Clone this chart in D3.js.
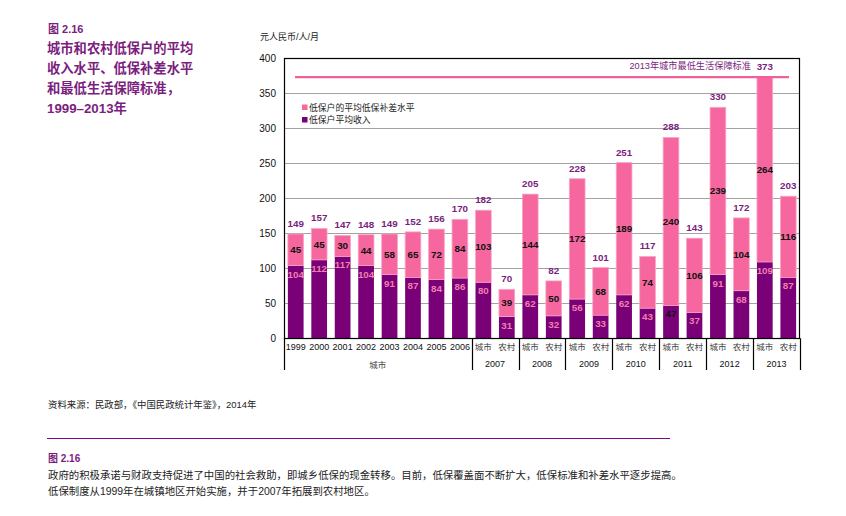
<!DOCTYPE html>
<html><head><meta charset="utf-8">
<script src="https://cdn.jsdelivr.net/npm/d3@7"></script>
<style>
html,body{margin:0;padding:0;background:#fff;}
svg{display:block;font-family:"Liberation Sans","Noto Sans CJK SC",Arial,sans-serif;}
</style></head>
<body>
<svg id="chart" width="846" height="516"></svg>
<script>
// ---- data ----
const barLabels = ["1999","2000","2001","2002","2003","2004","2005","2006",
  "城市","农村","城市","农村","城市","农村","城市","农村","城市","农村","城市","农村","城市","农村"];
const income = [104,112,117,104,91,87,84,86,80,31,62,32,56,33,62,43,47,37,91,68,109,87];
const gap    = [45,45,30,44,58,65,72,84,103,39,144,50,172,68,189,74,240,106,239,104,264,116];
const total  = [149,157,147,148,149,152,156,170,182,70,205,82,228,101,251,117,288,143,330,172,373,203];
const groupLabels = ["城市","2007","2008","2009","2010","2011","2012","2013"];
const groupStarts = [0,8,10,12,14,16,18,20];
const groupEnds   = [8,10,12,14,16,18,20,22];
const yTicks = [0,50,100,150,200,250,300,350,400];
const standard2013 = 373;
const seriesNames = ["低保户的平均低保补差水平","低保户平均收入"];

// ---- style ----
const PINK = "#F5679E", PURPLE = "#7A0077", TITLE = "#7B1E7E";
const svg = d3.select("#chart");
const m = {left:284, right:800, top:58.3, bottom:338.3};

const x = d3.scaleBand().domain(d3.range(barLabels.length))
  .range([m.left, m.right]).paddingInner(0.33).paddingOuter(0.165);
const y = d3.scaleLinear().domain([0,400]).range([m.bottom, m.top]);

// Title block
svg.append("text").attr("x",48).attr("y",33).attr("fill",TITLE)
  .attr("font-size",11).attr("font-weight","bold")
  .text("图 2.16");
const titleLines = ["城市和农村低保户的平均","收入水平、低保补差水平","和最低生活保障标准，","1999–2013年"];
titleLines.forEach((t,i)=>{
  svg.append("text").attr("x",47).attr("y",53+i*20).attr("fill",TITLE)
    .attr("font-size",13.3).attr("font-weight","bold").text(t);
});

// y unit
svg.append("text").attr("x",260).attr("y",40).attr("font-size",9).attr("fill","#222")
  .text("元人民币/人/月");

// grid
svg.append("g").selectAll("line").data(yTicks.filter(d=>d>0 && d<400)).join("line")
  .attr("x1",m.left).attr("x2",m.right)
  .attr("y1",d=>Math.round(y(d))+0.5).attr("y2",d=>Math.round(y(d))+0.5)
  .attr("stroke","#a3a3a3").attr("stroke-width",1);

// y axis labels
const yAxis = d3.axisLeft(y).tickValues(yTicks).tickSize(0).tickPadding(8);
const ya = svg.append("g").attr("transform",`translate(${m.left},0)`).call(yAxis);
ya.select(".domain").remove();
ya.selectAll("text").attr("font-size",10).attr("fill","#111")
  .attr("font-family","Liberation Sans, Arial, sans-serif");

// bars
const bars = svg.append("g");
bars.selectAll("rect.inc").data(income).join("rect").attr("class","inc")
  .attr("x",(d,i)=>x(i)).attr("width",x.bandwidth())
  .attr("y",d=>y(d)).attr("height",d=>y(0)-y(d)).attr("fill",PURPLE);
bars.selectAll("rect.gap").data(gap).join("rect").attr("class","gap")
  .attr("x",(d,i)=>x(i)).attr("width",x.bandwidth())
  .attr("y",(d,i)=>y(income[i]+d)).attr("height",(d,i)=>y(income[i])-y(income[i]+d))
  .attr("fill",PINK).attr("stroke","#F9A6C6").attr("stroke-width",0.8);

// 2013 standard line
svg.append("line").attr("x1",295).attr("x2",789)
  .attr("y1",y(standard2013)).attr("y2",y(standard2013))
  .attr("stroke","#F0609A").attr("stroke-width",2.2);
svg.append("text").attr("x",751).attr("y",69).attr("text-anchor","end")
  .attr("font-size",9.2).attr("fill",TITLE).text("2013年城市最低生活保障标准");

// frame
svg.append("rect").attr("x",m.left+0.5).attr("y",Math.round(m.top)+0.5)
  .attr("width",m.right-m.left-1).attr("height",Math.round(m.bottom)-Math.round(m.top))
  .attr("fill","none").attr("stroke","#000").attr("stroke-width",1.2);

// value labels
const lab = svg.append("g").attr("font-weight","bold").attr("font-size",9.8)
  .attr("text-anchor","middle").attr("font-family","Liberation Sans, Arial, sans-serif");
lab.selectAll("text.tot").data(total).join("text").attr("class","tot")
  .attr("x",(d,i)=>x(i)+x.bandwidth()/2).attr("y",(d,i)=>y(income[i]+gap[i])-7)
  .attr("fill",TITLE).text(d=>d);
lab.selectAll("text.gap").data(gap).join("text").attr("class","gap")
  .attr("x",(d,i)=>x(i)+x.bandwidth()/2).attr("y",(d,i)=>y(income[i]+d/2)+3.5)
  .attr("fill","#111").text(d=>d);
lab.selectAll("text.inc").data(income).join("text").attr("class","inc")
  .attr("x",(d,i)=>x(i)+x.bandwidth()/2).attr("y",d=>y(d)+12)
  .attr("fill",d=>d===47?"#111":"#F27FB0").text(d=>d);

// x-axis labels
const xl = svg.append("g").attr("text-anchor","middle");
xl.selectAll("text").data(barLabels).join("text")
  .attr("x",(d,i)=>x(i)+x.bandwidth()/2).attr("y",350)
  .attr("font-size",d=>/^\d/.test(d)?9:8.5)
  .attr("fill",d=>/^\d/.test(d)?"#111":"#444").text(d=>d);
// separators
const sepX = [m.left].concat(groupEnds.map(e=> e===barLabels.length ? m.right : x(e)-x.step()*x.paddingInner()/2));
svg.append("g").selectAll("line").data(sepX).join("line")
  .attr("x1",d=>Math.round(d)+0.5).attr("x2",d=>Math.round(d)+0.5)
  .attr("y1",m.bottom).attr("y2",370).attr("stroke","#000").attr("stroke-width",1.2);
svg.append("g").selectAll("text").data(groupLabels).join("text")
  .attr("text-anchor","middle")
  .attr("x",(d,i)=>{const a=x(groupStarts[i]); const b=x(groupEnds[i]-1)+x.bandwidth(); return (a+b)/2;})
  .attr("y",(d,i)=>i===0?368:367)
  .attr("font-size",(d,i)=>i===0?8.5:9).attr("fill",(d,i)=>i===0?"#444":"#111").text(d=>d);

// legend
const lg = svg.append("g");
[PINK,PURPLE].forEach((c,i)=>{
  lg.append("rect").attr("x",302).attr("y",104.5+i*12.5).attr("width",5.5).attr("height",5.5).attr("fill",c);
  lg.append("text").attr("x",309).attr("y",110.5+i*12.5).attr("font-size",8.8).attr("fill","#222").text(seriesNames[i]);
});

// footer
svg.append("text").attr("x",48).attr("y",408).attr("font-size",9.4).attr("fill","#222")
  .text("资料来源：民政部，《中国民政统计年鉴》，2014年");
svg.append("line").attr("x1",47).attr("x2",670).attr("y1",438.5).attr("y2",438.5)
  .attr("stroke","#7A0A85").attr("stroke-width",1.2);
svg.append("text").attr("x",48).attr("y",462).attr("font-size",10).attr("font-weight","bold").attr("fill",TITLE)
  .text("图 2.16");
svg.append("text").attr("x",48).attr("y",479).attr("font-size",10.4).attr("fill","#222")
  .text("政府的积极承诺与财政支持促进了中国的社会救助，即城乡低保的现金转移。目前，低保覆盖面不断扩大，低保标准和补差水平逐步提高。");
svg.append("text").attr("x",48).attr("y",495).attr("font-size",10.4).attr("fill","#222")
  .text("低保制度从1999年在城镇地区开始实施，并于2007年拓展到农村地区。");
</script>
</body></html>
